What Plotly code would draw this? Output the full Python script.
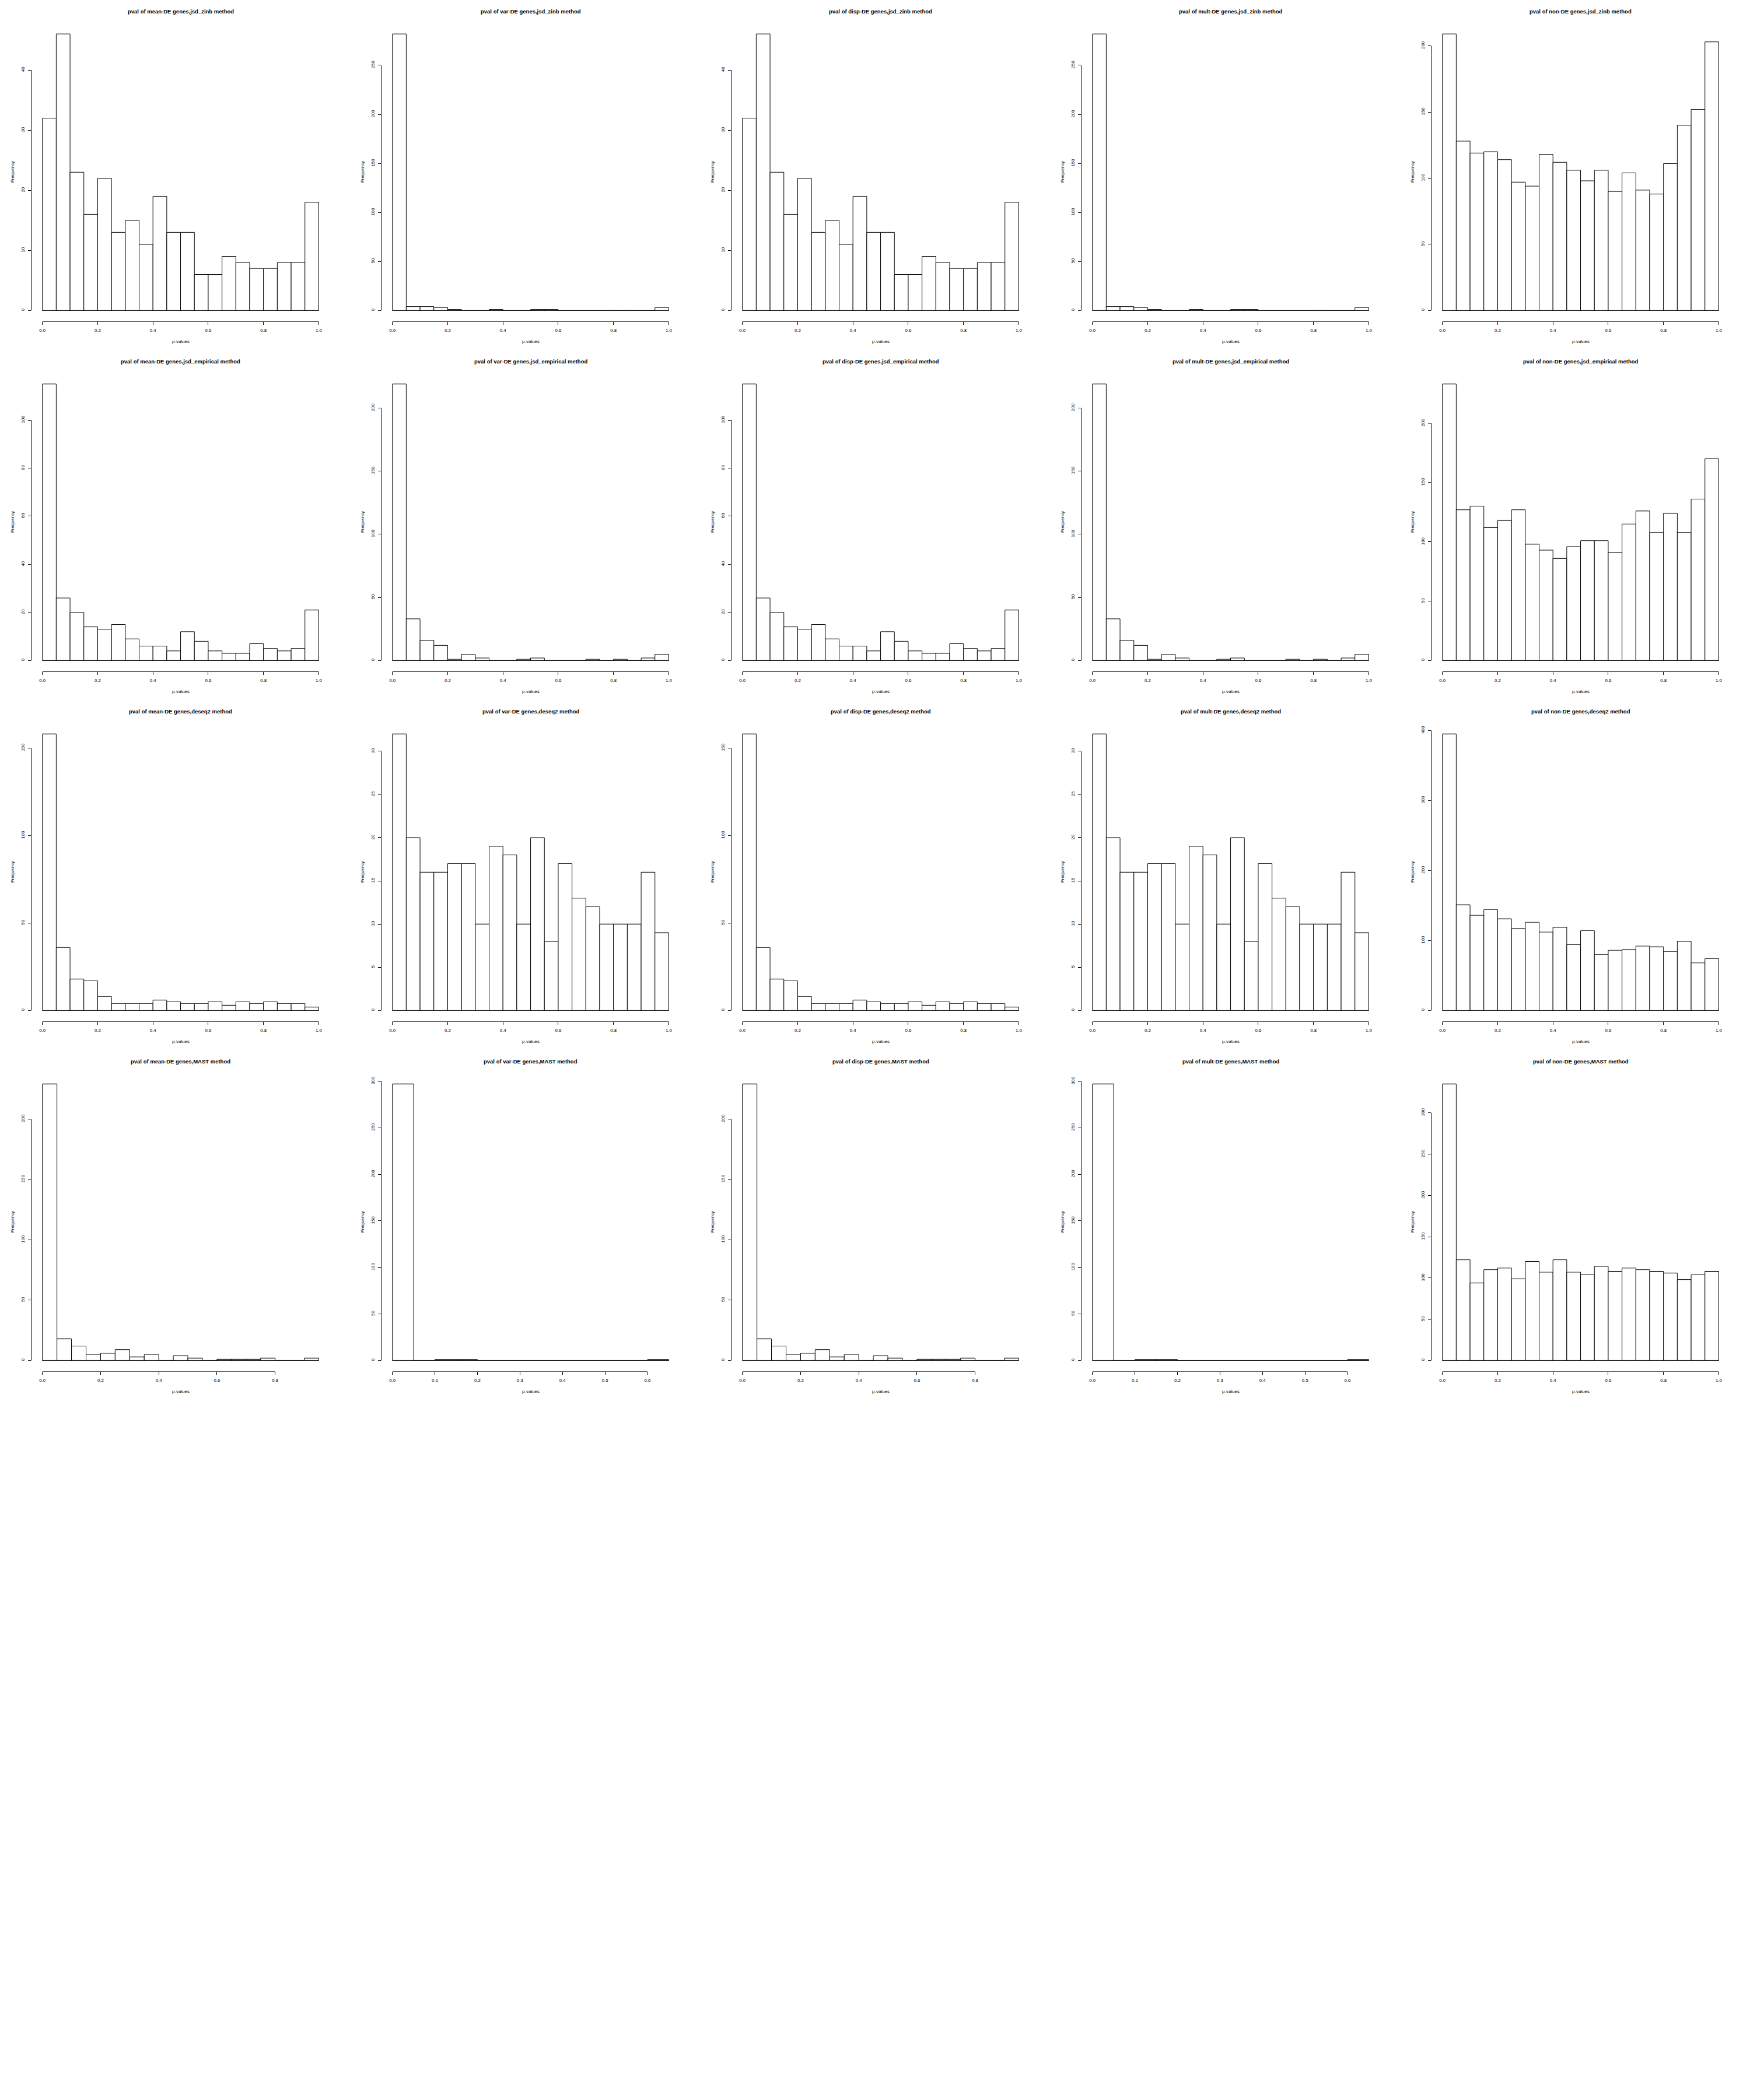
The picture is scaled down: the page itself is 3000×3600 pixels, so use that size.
import plotly.graph_objects as go

# ---------------- data (counts per 0.05-wide p-value bin) ----------------
methods = ["jsd_zinb", "jsd_empirical", "deseq2", "MAST"]
gene_sets = ["mean-DE", "var-DE", "disp-DE", "mult-DE", "non-DE"]

zinb_mean = [32, 46, 23, 16, 22, 13, 15, 11, 19, 13, 13, 6, 6, 9, 8, 7, 7, 8, 8, 18]
zinb_var = [282, 4, 4, 3, 1, 0, 0, 1, 0, 0, 1, 1, 0, 0, 0, 0, 0, 0, 0, 3]
zinb_disp = [32, 46, 23, 16, 22, 13, 15, 11, 19, 13, 13, 6, 6, 9, 8, 7, 7, 8, 8, 18]
zinb_mult = [282, 4, 4, 3, 1, 0, 0, 1, 0, 0, 1, 1, 0, 0, 0, 0, 0, 0, 0, 3]
zinb_non = [209, 128, 119, 120, 114, 97, 94, 118, 112, 106, 98, 106, 90, 104, 91, 88, 111, 140, 152, 203]

emp_mean = [115, 26, 20, 14, 13, 15, 9, 6, 6, 4, 12, 8, 4, 3, 3, 7, 5, 4, 5, 21]
emp_var = [219, 33, 16, 12, 1, 5, 2, 0, 0, 1, 2, 0, 0, 0, 1, 0, 1, 0, 2, 5]
emp_disp = [115, 26, 20, 14, 13, 15, 9, 6, 6, 4, 12, 8, 4, 3, 3, 7, 5, 4, 5, 21]
emp_mult = [219, 33, 16, 12, 1, 5, 2, 0, 0, 1, 2, 0, 0, 0, 1, 0, 1, 0, 2, 5]
emp_non = [233, 127, 130, 112, 118, 127, 98, 93, 86, 96, 101, 101, 91, 115, 126, 108, 124, 108, 136, 170]

deseq_mean = [158, 36, 18, 17, 8, 4, 4, 4, 6, 5, 4, 4, 5, 3, 5, 4, 5, 4, 4, 2]
deseq_var = [32, 20, 16, 16, 17, 17, 10, 19, 18, 10, 20, 8, 17, 13, 12, 10, 10, 10, 16, 9]
deseq_disp = [158, 36, 18, 17, 8, 4, 4, 4, 6, 5, 4, 4, 5, 3, 5, 4, 5, 4, 4, 2]
deseq_mult = [32, 20, 16, 16, 17, 17, 10, 19, 18, 10, 20, 8, 17, 13, 12, 10, 10, 10, 16, 9]
deseq_non = [395, 151, 136, 144, 131, 117, 126, 112, 119, 94, 114, 80, 86, 87, 92, 91, 84, 99, 68, 74]

mast_mean = [229, 18, 12, 5, 6, 9, 3, 5, 0, 4, 2, 0, 1, 1, 1, 2, 0, 0, 2]
mast_var = [297, 0, 1, 1, 0, 0, 0, 0, 0, 0, 0, 0, 1]
mast_disp = [229, 18, 12, 5, 6, 9, 3, 5, 0, 4, 2, 0, 1, 1, 1, 2, 0, 0, 2]
mast_mult = [297, 0, 1, 1, 0, 0, 0, 0, 0, 0, 0, 0, 1]
mast_non = [335, 122, 94, 110, 112, 99, 120, 107, 122, 107, 104, 114, 108, 112, 110, 108, 106, 98, 104, 108]

counts = [
    [zinb_mean, zinb_var, zinb_disp, zinb_mult, zinb_non],
    [emp_mean, emp_var, emp_disp, emp_mult, emp_non],
    [deseq_mean, deseq_var, deseq_disp, deseq_mult, deseq_non],
    [mast_mean, mast_var, mast_disp, mast_mult, mast_non],
]

bin_width = 0.05
# x tick step per panel, y tick step per panel
x_tick_step = [
    [0.2, 0.2, 0.2, 0.2, 0.2],
    [0.2, 0.2, 0.2, 0.2, 0.2],
    [0.2, 0.2, 0.2, 0.2, 0.2],
    [0.2, 0.1, 0.2, 0.1, 0.2],
]
y_tick_step = [
    [10, 50, 10, 50, 50],
    [20, 50, 20, 50, 50],
    [50, 5, 50, 5, 100],
    [50, 50, 50, 50, 50],
]

# ---------------- layout constants ----------------
W, H = 3000, 3600
CELL = 600
RX0, RX1 = 53.75, 565.4   # plot region inside a cell (px)
RY0, RY1 = 39.2, 551.3
FONT = "Liberation Sans, Arial, Helvetica, sans-serif"
BASE = 7.9

fig = go.Figure()
shapes = []
annotations = []
layout = {}

k = 0
for r, method in enumerate(methods):
    for c, gs in enumerate(gene_sets):
        k += 1
        sfx = "" if k == 1 else str(k)
        xr, yr = "x" + sfx, "y" + sfx
        vals = counts[r][c]
        n = len(vals)
        edges = [round(i * bin_width, 10) for i in range(n + 1)]
        centers = [(edges[i] + edges[i + 1]) / 2 for i in range(n)]
        x0, x1 = edges[0], edges[-1]
        ymax = max(vals)
        xs = x_tick_step[r][c]
        xt = []
        v = 0.0
        while v <= x1 + 1e-9:
            xt.append(round(v, 10))
            v += xs
        ys = y_tick_step[r][c]
        yt = []
        v = 0
        while v <= ymax * 1.04 + 1e-9:
            yt.append(v)
            v += ys

        fig.add_trace(go.Scatter(
            x=[x0, x1], y=[0, 0], mode="lines",
            line=dict(color="black", width=1),
            xaxis=xr, yaxis=yr, showlegend=False, hoverinfo="skip"))
        fig.add_trace(go.Bar(
            x=centers, y=vals, width=[bin_width] * n,
            marker=dict(color="white", line=dict(color="black", width=1)),
            xaxis=xr, yaxis=yr, showlegend=False, hoverinfo="skip"))

        dx0 = (CELL * c + RX0) / W
        dx1 = (CELL * c + RX1) / W
        dy1 = 1 - (CELL * r + RY0) / H
        dy0 = 1 - (CELL * r + RY1) / H
        xpad = 0.04 * (x1 - x0)
        layout["xaxis" + sfx] = dict(
            domain=[dx0, dx1], anchor=yr, range=[x0 - xpad, x1 + xpad],
            showgrid=False, zeroline=False, showline=False,
            ticks="outside", ticklen=5, tickwidth=1, tickcolor="black",
            tickvals=xt, ticktext=[f"{t:.1f}" for t in xt],
            tickfont=dict(family=FONT, size=BASE, color="black"),
            ticklabelstandoff=2, fixedrange=True)
        layout["yaxis" + sfx] = dict(
            domain=[dy0, dy1], anchor=xr, range=[-0.04 * ymax, 1.04 * ymax],
            showgrid=False, zeroline=False, showline=False,
            ticks="outside", ticklen=5, tickwidth=1, tickcolor="black",
            tickvals=yt, ticktext=[str(t) for t in yt], tickangle=-90,
            tickfont=dict(family=FONT, size=BASE, color="black"),
            ticklabelstandoff=3, fixedrange=True)

        # R-style axis lines spanning first to last tick
        shapes.append(dict(type="line", xref=xr, yref=yr + " domain",
                           x0=xt[0], x1=xt[-1], y0=0, y1=0,
                           line=dict(color="black", width=1)))
        shapes.append(dict(type="line", xref=xr + " domain", yref=yr,
                           x0=0, x1=0, y0=yt[0], y1=yt[-1],
                           line=dict(color="black", width=1)))

        annotations.append(dict(
            text=f"<b>pval of {gs} genes,{method} method</b>",
            xref=xr + " domain", yref=yr + " domain", x=0.5, y=1,
            xanchor="center", yanchor="middle", yshift=RY0 - 19.1,
            showarrow=False, font=dict(family=FONT, size=9.5, color="black")))
        annotations.append(dict(
            text="p-values", xref=xr + " domain", yref=yr + " domain",
            x=0.5, y=0, xanchor="center", yanchor="middle", yshift=-34.2,
            showarrow=False, font=dict(family=FONT, size=BASE, color="black")))
        annotations.append(dict(
            text="Frequency", xref=xr + " domain", yref=yr + " domain",
            x=0, y=0.5, xanchor="center", yanchor="middle", xshift=-(RX0 - 21.0),
            textangle=-90, showarrow=False,
            font=dict(family=FONT, size=BASE, color="black")))

fig.update_layout(
    width=W, height=H, autosize=False,
    margin=dict(l=0, r=0, t=0, b=0),
    paper_bgcolor="white", plot_bgcolor="white",
    showlegend=False, barmode="overlay",
    shapes=shapes, annotations=annotations,
    **layout)

fig.write_html("out.html")
